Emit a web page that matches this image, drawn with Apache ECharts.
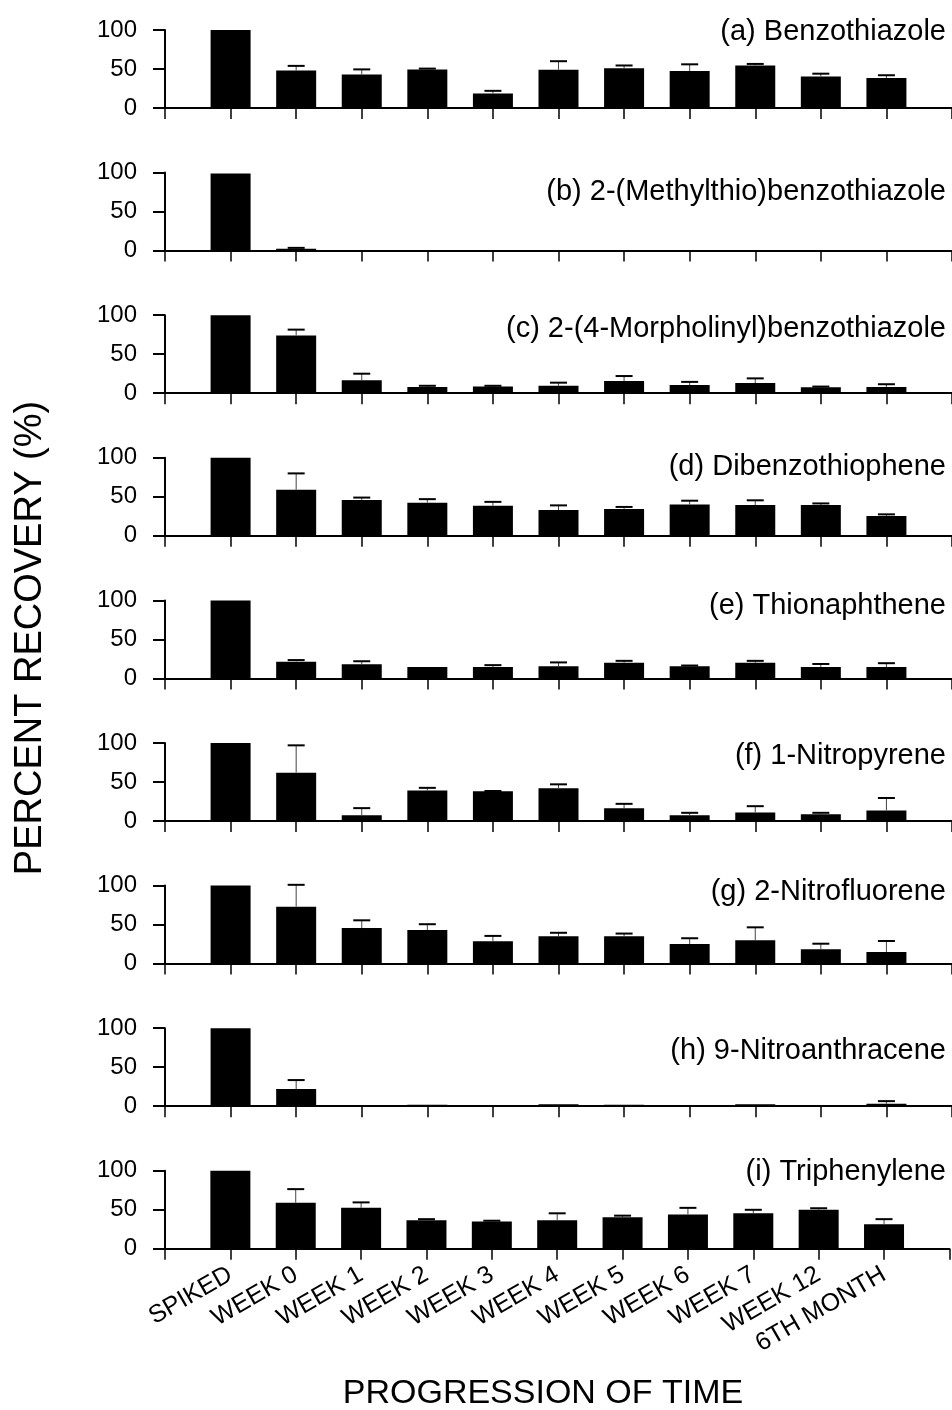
<!DOCTYPE html>
<html>
<head>
<meta charset="utf-8">
<title>Percent recovery over time</title>
<script src="https://cdn.jsdelivr.net/npm/echarts@6/dist/echarts.min.js"></script>
<style>
  html, body { margin: 0; padding: 0; background: #fff; }
  #main { width: 952px; height: 1410px; }
</style>
</head>
<body>
<div id="main"></div>
<script>
// categories along the x axis
const categories = ['SPIKED', 'WEEK 0', 'WEEK 1', 'WEEK 2', 'WEEK 3', 'WEEK 4',
  'WEEK 5', 'WEEK 6', 'WEEK 7', 'WEEK 12', '6TH MONTH'];
const yTicks = [0, 50, 100];

const panelTitles = [
  '(a) Benzothiazole',
  '(b) 2-(Methylthio)benzothiazole',
  '(c) 2-(4-Morpholinyl)benzothiazole',
  '(d) Dibenzothiophene',
  '(e) Thionaphthene',
  '(f) 1-Nitropyrene',
  '(g) 2-Nitrofluorene',
  '(h) 9-Nitroanthracene',
  '(i) Triphenylene'
];

// mean recovery (%) and top of the error bar (%)
const benzothiazole = [100, 48, 43, 49.5, 18.5, 49, 51, 47.5, 54.5, 40.5, 38.5];
const benzothiazoleErr = [null, 54, 49.5, 50.5, 22, 60, 54.5, 56, 56.5, 44, 42];

const methylthio = [99, 2.5, 0, 0, 0, 0, 0.5, 0, 0.5, 0, 0];
const methylthioErr = [null, 3.5, null, null, null, null, null, null, null, null, null];

const morpholinyl = [100, 74, 16.5, 8, 8.5, 9.5, 15.5, 10.5, 13, 7.5, 8];
const morpholinylErr = [null, 81.5, 25, 9.5, 9.5, 13.5, 22, 14.5, 19, 8.5, 11.5];

const dibenzothiophene = [100, 59, 46, 42.5, 38.5, 33, 34.5, 40, 39.5, 39.5, 25.5];
const dibenzothiopheneErr = [null, 80, 49, 47, 43.5, 39, 37, 45, 45.5, 41.5, 27.5];

const thionaphthene = [100, 21.5, 18, 14.5, 14.5, 15.5, 20, 15.5, 20, 14.5, 14.5];
const thionaphtheneErr = [null, 23.5, 22, null, 17, 20.5, 22.5, 16.5, 22.5, 18.5, 19.5];

const nitropyrene = [100, 62, 7.5, 39, 38, 42, 16.5, 7.5, 11, 8.5, 13.5];
const nitropyreneErr = [null, 97, 16.5, 42.5, 38.5, 47, 22, 10.5, 19, 10.5, 29.5];

const nitrofluorene = [100, 73, 45.5, 43, 28.5, 35, 35, 25, 30, 18.5, 15];
const nitrofluoreneErr = [null, 101, 55.5, 50.5, 35.5, 39.5, 38.5, 32.5, 46.5, 25.5, 29];

const nitroanthracene = [100, 22, 1.5, 2, 1.5, 2.5, 2, 1, 2.5, 1, 3];
const nitroanthraceneErr = [null, 33.5, null, null, null, null, null, null, null, null, 6.5];

const triphenylene = [100, 59, 52.5, 36.5, 35, 36.5, 40.5, 44, 45.5, 50, 31.5];
const triphenyleneErr = [null, 76.5, 59.5, 38, 36, 45.5, 42.5, 52.5, 50, 52, 38];

const panelValues = [benzothiazole, methylthio, morpholinyl, dibenzothiophene,
  thionaphthene, nitropyrene, nitrofluorene, nitroanthracene, triphenylene];
const panelErrors = [benzothiazoleErr, methylthioErr, morpholinylErr, dibenzothiopheneErr,
  thionaphtheneErr, nitropyreneErr, nitrofluoreneErr, nitroanthraceneErr, triphenyleneErr];

// layout (pixels)
const FONT = '"Liberation Sans", Arial, Helvetica, sans-serif';
const GRID_LEFT = 165;
const TOP0 = 30;
const STEP = 142.6;
const PLOT_H = 78;
const PLOT_W = 793; // 12 category steps, runs a little past the right edge
const titleDy = [1.5, 19.5, 14, 9, 6, 13, 6, 23, 1];

const axisData = [''].concat(categories, ['']);

function errorBar(params, api) {
  const base = api.coord([api.value(0), api.value(1)]);
  const top = api.coord([api.value(0), api.value(2)]);
  return {
    type: 'group',
    children: [
      {
        type: 'line',
        shape: { x1: base[0], y1: base[1], x2: top[0], y2: top[1] },
        style: { stroke: '#444', lineWidth: 1 }
      },
      {
        type: 'line',
        shape: { x1: top[0] - 8.5, y1: top[1], x2: top[0] + 8.5, y2: top[1] },
        style: { stroke: '#000', lineWidth: 2 }
      }
    ]
  };
}

const grids = [], xAxes = [], yAxes = [], series = [], titles = [];

panelTitles.forEach((name, i) => {
  const top = TOP0 + STEP * i;
  grids.push({ left: GRID_LEFT, top: top, width: PLOT_W, height: PLOT_H });
  xAxes.push({
    type: 'category',
    gridIndex: i,
    data: axisData,
    boundaryGap: false,
    axisLine: { lineStyle: { color: '#000', width: 2 } },
    axisTick: { show: true, length: 11, interval: 0, lineStyle: { color: '#000', width: 1.5 } },
    axisLabel: {
      show: i === panelTitles.length - 1,
      interval: 0,
      rotate: 30,
      margin: 24,
      fontSize: 25,
      color: '#000',
      fontFamily: FONT
    },
    splitLine: { show: false }
  });
  yAxes.push({
    type: 'value',
    gridIndex: i,
    min: yTicks[0],
    max: yTicks[yTicks.length - 1],
    interval: yTicks[1] - yTicks[0],
    axisLine: { show: true, lineStyle: { color: '#000', width: 2 } },
    axisTick: { show: true, length: 12, lineStyle: { color: '#000', width: 2 } },
    axisLabel: { margin: 28, fontSize: 24, color: '#000', fontFamily: FONT },
    splitLine: { show: false }
  });
  titles.push({
    text: name,
    right: 6,
    top: top + titleDy[i] - 15,
    padding: 0,
    textStyle: { fontSize: 29, fontWeight: 'normal', color: '#000', fontFamily: FONT, lineHeight: 30 }
  });

  const vals = panelValues[i];
  const errs = panelErrors[i];
  series.push({
    type: 'bar',
    xAxisIndex: i,
    yAxisIndex: i,
    barWidth: 40,
    itemStyle: { color: '#000' },
    data: categories.map((c, k) => [c, vals[k]]),
    animation: false
  });
  series.push({
    type: 'custom',
    xAxisIndex: i,
    yAxisIndex: i,
    z: 5,
    renderItem: errorBar,
    data: categories.map((c, k) => [c, vals[k], errs[k]]).filter(d => d[2] != null),
    animation: false
  });
});

const chart = echarts.init(document.getElementById('main'), null, { renderer: 'canvas' });
chart.setOption({
  animation: false,
  backgroundColor: '#fff',
  title: titles,
  grid: grids,
  xAxis: xAxes,
  yAxis: yAxes,
  series: series,
  graphic: [
    {
      type: 'text',
      x: 31,
      y: 638,
      rotation: Math.PI / 2,
      style: {
        text: 'PERCENT RECOVERY (%)',
        font: '38px ' + FONT,
        fill: '#000',
        align: 'center',
        verticalAlign: 'middle'
      }
    },
    {
      type: 'text',
      x: 543,
      y: 1394,
      style: {
        text: 'PROGRESSION OF TIME',
        font: '34px ' + FONT,
        fill: '#000',
        align: 'center',
        verticalAlign: 'middle'
      }
    }
  ]
});
</script>
</body>
</html>
